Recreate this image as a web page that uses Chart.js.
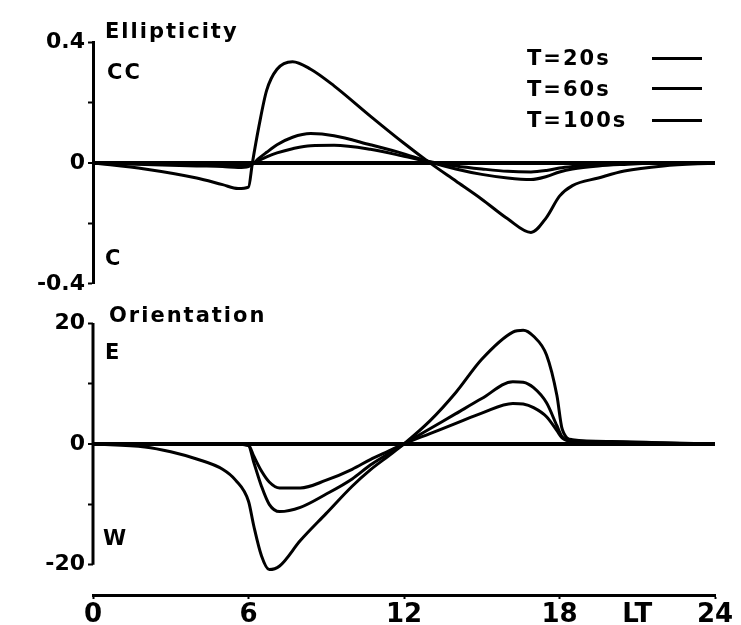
<!DOCTYPE html>
<html>
<head>
<meta charset="utf-8">
<script src="https://cdn.jsdelivr.net/npm/chart.js"></script>
<style>
  body { margin: 0; background: #fff; }
  #wrap { position: relative; width: 741px; height: 625px; overflow: hidden; }
  canvas { position: absolute; left: 0; }
  #top { top: 0; }
  #bot { top: 300px; }
  .lbl { position: absolute; font: bold 21px "DejaVu Sans", sans-serif; letter-spacing: 2px; color: #000; line-height: 1; white-space: nowrap; }
  .key { position: absolute; height: 0; width: 50px; border-top: 3px solid #000; }
</style>
</head>
<body>
<div id="wrap">
  <canvas id="top" width="741" height="300"></canvas>
  <canvas id="bot" width="741" height="325"></canvas>
  <div class="lbl" style="left:105px;top:21px">Ellipticity</div>
  <div class="lbl" style="left:107px;top:62px">CC</div>
  <div class="lbl" style="left:105px;top:248px">C</div>
  <div class="lbl" style="left:109px;top:305px">Orientation</div>
  <div class="lbl" style="left:105px;top:342px">E</div>
  <div class="lbl" style="left:103px;top:528px">W</div>
  <div class="lbl" style="left:527px;top:48px">T=20s</div>
  <div class="lbl" style="left:527px;top:79px">T=60s</div>
  <div class="lbl" style="left:527px;top:110px">T=100s</div>
  <div class="key" style="left:652px;top:57px"></div>
  <div class="key" style="left:652px;top:87px"></div>
  <div class="key" style="left:652px;top:119px"></div>
</div>
<script>
// local time (h) and values
const hoursTop = [0, 2, 4, 5, 5.6, 6, 6.15, 6.4, 6.7, 7.1, 7.7, 8.4, 9.3, 10.7, 12, 13, 14, 15, 16, 16.9, 17.5, 18, 18.5, 19.5, 20.5, 22, 24];
const ellT20 = [0, -0.02, -0.05, -0.072, -0.085, -0.08, 0, 0.12, 0.24, 0.31, 0.335, 0.31, 0.255, 0.155, 0.065, 0, -0.06, -0.12, -0.185, -0.23, -0.18, -0.11, -0.075, -0.05, -0.027, -0.01, 0];
const ellT60 = [0, -0.005, -0.01, -0.012, -0.015, -0.012, -0.005, 0.015, 0.035, 0.06, 0.085, 0.097, 0.09, 0.06, 0.03, 0.003, -0.02, -0.038, -0.05, -0.055, -0.045, -0.03, -0.02, -0.01, -0.005, 0, 0];
const ellT100 = [0, -0.003, -0.005, -0.006, -0.007, -0.005, -0.003, 0.008, 0.02, 0.033, 0.047, 0.057, 0.058, 0.045, 0.022, 0.004, -0.01, -0.02, -0.028, -0.03, -0.025, -0.017, -0.012, -0.005, -0.002, 0, 0];

const hoursBot = [0, 2, 3, 4, 5, 5.5, 6, 6.2, 6.5, 6.8, 7.2, 8, 9, 10, 10.7, 11.4, 12, 13, 14, 15, 16.2, 16.6, 17, 17.5, 17.9, 18.1, 18.5, 20, 22, 24];
const oriT20 = [0, -0.5, -1.3, -2.5, -4.2, -6, -9.5, -13.5, -18.5, -20.8, -20.2, -16, -11.5, -7, -4.3, -2, 0, 3.8, 8.5, 14, 18.5, 18.8, 17.8, 14.7, 8, 2.5, 0.7, 0.4, 0.2, 0];
const oriT60 = [0, 0, 0, 0, 0, 0, -0.3, -3, -7, -10, -11.2, -10.5, -8.3, -5.8, -3.5, -1.6, 0, 2.5, 5, 7.5, 10.3, 10.2, 9.3, 6.8, 3, 1.2, 0.5, 0.3, 0.1, 0];
const oriT100 = [0, 0, 0, 0, 0, 0, -0.2, -2, -4.5, -6.3, -7.3, -7.3, -6, -4.2, -2.6, -1.2, 0, 1.7, 3.4, 5.1, 6.7, 6.6, 6, 4.5, 2.2, 1, 0.4, 0.2, 0.1, 0];

const ellTicks = [-0.4, -0.2, 0, 0.2, 0.4];
const ellTickLabels = ['-0.4', '', '0', '', '0.4'];
const oriTicks = [-20, -10, 0, 10, 20];
const oriTickLabels = ['-20', '', '0', '', '20'];
const hourTicks = [0, 6, 12, 18, 21, 24];
const hourTickLabels = ['0', '6', '12', '18', 'LT', '24'];

const tickFont = { family: 'DejaVu Sans', weight: 'bold', size: 22 };

function lineSet(label, xs, ys) {
  return {
    label,
    data: xs.map((x, i) => ({ x, y: ys[i] })),
    borderColor: '#000',
    borderWidth: 3,
    pointRadius: 0,
    fill: false,
    cubicInterpolationMode: 'monotone'
  };
}

function yAxis(min, max, ticks, labels, showBorder) {
  return {
    type: 'linear',
    min, max,
    afterBuildTicks: s => { s.ticks = ticks.map(v => ({ value: v })); },
    afterFit: s => { s.width = 93; },
    border: { display: showBorder, color: '#000', width: 3 },
    grid: {
      color: c => (c.tick && c.tick.value === 0) ? '#000' : 'rgba(0,0,0,0)',
      lineWidth: c => (c.tick && c.tick.value === 0) ? 4 : 1,
      tickColor: '#000',
      tickLength: 5,
      tickWidth: 2
    },
    ticks: { color: '#000', font: tickFont, padding: 3, callback: (v, i) => labels[i] }
  };
}

// left axis of the lower panel stops at -20
const axisLine = {
  id: 'axisLine',
  afterDraw(chart) {
    const { ctx, scales: { x, y } } = chart;
    ctx.save();
    ctx.strokeStyle = '#000';
    ctx.lineWidth = 3;
    ctx.beginPath();
    ctx.moveTo(x.left, y.getPixelForValue(20));
    ctx.lineTo(x.left, y.getPixelForValue(-20));
    ctx.stroke();
    ctx.restore();
  }
};

new Chart(document.getElementById('top'), {
  type: 'line',
  data: {
    datasets: [
      lineSet('T=20s', hoursTop, ellT20),
      lineSet('T=60s', hoursTop, ellT60),
      lineSet('T=100s', hoursTop, ellT100)
    ]
  },
  options: {
    responsive: false,
    animation: false,
    layout: { padding: { top: 42, bottom: 12, left: 0, right: 26 } },
    plugins: { legend: { display: false }, tooltip: { enabled: false } },
    scales: {
      x: { type: 'linear', min: 0, max: 24, display: false },
      y: yAxis(-0.4, 0.4, ellTicks, ellTickLabels, true)
    }
  }
});

new Chart(document.getElementById('bot'), {
  type: 'line',
  data: {
    datasets: [
      lineSet('T=20s', hoursBot, oriT20),
      lineSet('T=60s', hoursBot, oriT60),
      lineSet('T=100s', hoursBot, oriT100)
    ]
  },
  options: {
    responsive: false,
    animation: false,
    layout: { padding: { top: 23, bottom: 0, left: 0, right: 26 } },
    plugins: { legend: { display: false }, tooltip: { enabled: false } },
    scales: {
      x: {
        type: 'linear', min: 0, max: 24,
        afterBuildTicks: s => { s.ticks = hourTicks.map(v => ({ value: v })); },
        afterFit: s => { s.height = 30; },
        border: { color: '#000', width: 3 },
        grid: {
          drawOnChartArea: false,
          tickColor: c => (c.tick && c.tick.value === 21) ? 'rgba(0,0,0,0)' : '#000',
          tickLength: 4,
          tickWidth: 2
        },
        ticks: {
          color: '#000',
          font: { family: 'DejaVu Sans', weight: 'bold', size: 26 },
          padding: 1,
          maxRotation: 0,
          callback: (v, i) => hourTickLabels[i]
        }
      },
      y: yAxis(-25, 20, oriTicks, oriTickLabels, false)
    }
  },
  plugins: [axisLine]
});
</script>
</body>
</html>
